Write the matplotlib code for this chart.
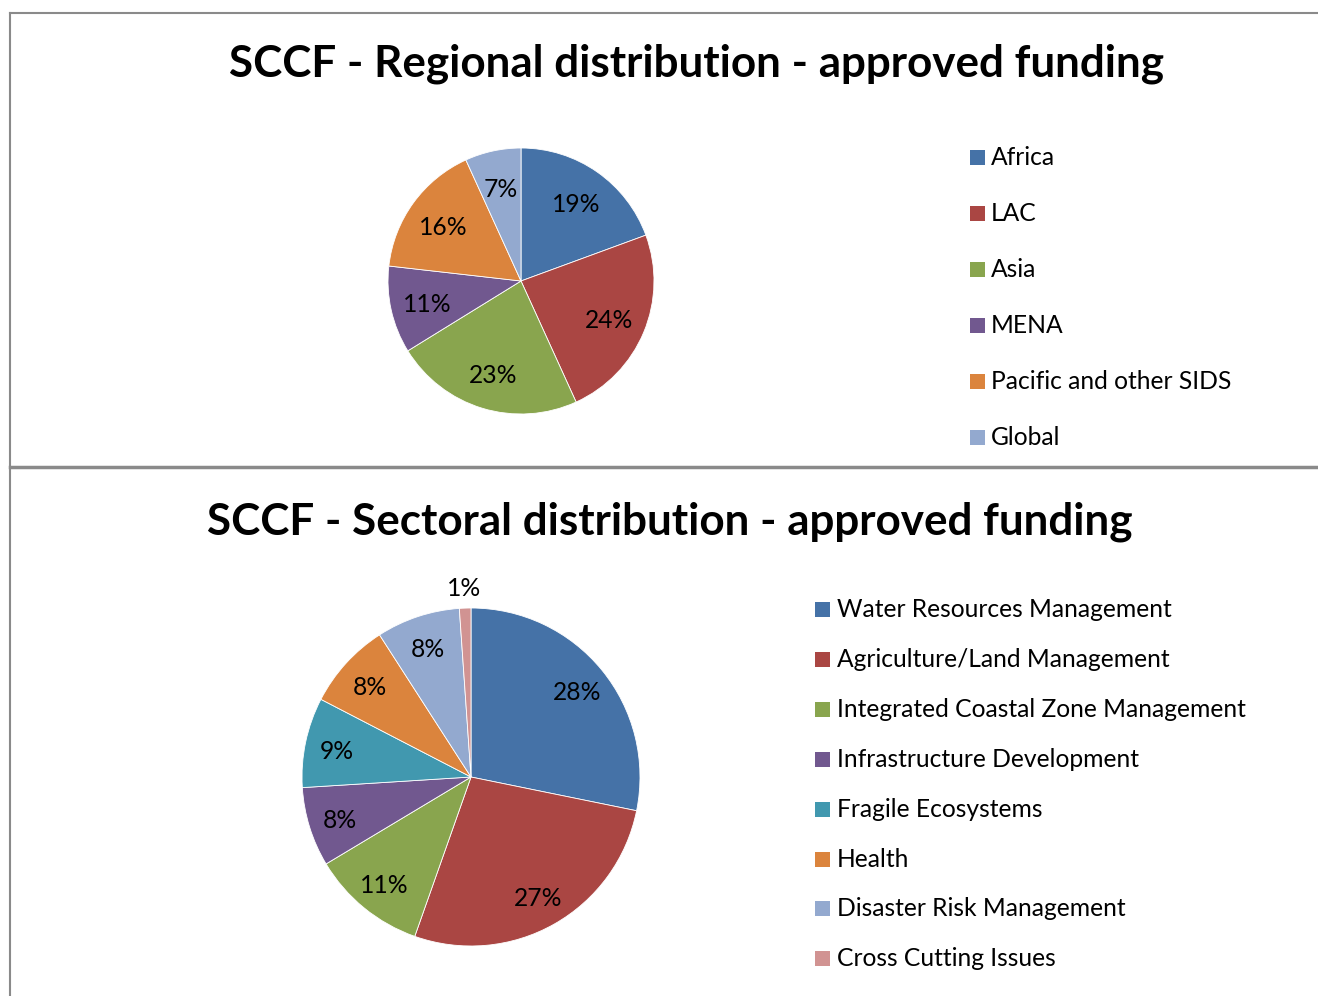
import matplotlib
matplotlib.use("Agg")
import matplotlib.pyplot as plt
from matplotlib.lines import Line2D
from matplotlib.patches import Rectangle
from matplotlib.transforms import offset_copy
import numpy as np

# ---------------- data ----------------
regions = ["Africa", "LAC", "Asia", "MENA", "Pacific and other SIDS", "Global"]
region_share = [19.4, 23.8, 23.0, 10.6, 16.4, 6.8]
region_colors = ["#4572A7", "#AA4643", "#89A54E", "#71588F", "#DB843D", "#93A9CF"]

sectors = ["Water Resources Management", "Agriculture/Land Management",
           "Integrated Coastal Zone Management", "Infrastructure Development",
           "Fragile Ecosystems", "Health", "Disaster Risk Management",
           "Cross Cutting Issues"]
sector_share = [28.2, 27.2, 11.0, 7.6, 8.6, 8.3, 8.0, 1.1]
sector_colors = ["#4572A7", "#AA4643", "#89A54E", "#71588F", "#4198AF",
                 "#DB843D", "#93A9CF", "#D19392"]

title_top = "SCCF - Regional distribution - approved funding"
title_bottom = "SCCF - Sectoral distribution - approved funding"

# ---------------- figure ----------------
W, H = 1318, 996
DPI = 100
plt.rcParams['font.family'] = ['Lato', 'DejaVu Sans']
fig = plt.figure(figsize=(W / DPI, H / DPI), dpi=DPI)
fig.patch.set_facecolor("white")


def fx(px):
    return px / W


def fy(py):
    return 1 - py / H


renderer = fig.canvas.get_renderer()


def fit(t, target):
    w = t.get_window_extent(renderer).width
    t.set_fontsize(t.get_fontsize() * target / w)
    return t.get_fontsize()


# borders
border_c = "#8a8a8a"
fig.add_artist(Line2D([fx(9.5), 1], [fy(13.5), fy(13.5)], color=border_c, lw=1.5, transform=fig.transFigure))
fig.add_artist(Line2D([fx(9.5), fx(9.5)], [fy(13.5), 0], color=border_c, lw=1.5, transform=fig.transFigure))
fig.add_artist(Line2D([fx(9.5), 1], [fy(467), fy(467)], color=border_c, lw=2.5, transform=fig.transFigure))

# titles
t1 = fig.text(fx(696.5), fy(76), title_top, ha="center", va="baseline",
              fontsize=26, fontweight="bold", color="black")
t2 = fig.text(fx(669.5), fy(534), title_bottom, ha="center", va="baseline",
              fontsize=26, fontweight="bold", color="black")
s1 = fit(t1, 937)
s2 = fit(t2, 925)
s = (s1 + s2) / 2
t1.set_fontsize(s)
t2.set_fontsize(s)

# legend font size
tmp = fig.text(0, 0, "Integrated Coastal Zone Management", fontsize=17)
leg_fs = fit(tmp, 408)
tmp.remove()


def draw_pie(rect, shares, colors, dists):
    ax = fig.add_axes(rect)
    wedges, _ = ax.pie(shares, colors=colors, startangle=90, counterclock=False,
                       radius=1.0, wedgeprops=dict(edgecolor="white", linewidth=0.6))
    ax.set_xlim(-1, 1)
    ax.set_ylim(-1, 1)
    ax.set_aspect("equal")
    ax.axis("off")
    tr = offset_copy(ax.transData, fig=fig, x=0, y=-2.5, units="dots")
    for w, v, d in zip(wedges, shares, dists):
        ang = np.deg2rad((w.theta1 + w.theta2) / 2)
        ax.text(d * np.cos(ang), d * np.sin(ang), f"{round(v):d}%", transform=tr,
                ha="center", va="center", fontsize=leg_fs, color="black", clip_on=False)
    return ax


# top pie: center (521,281) r=133
r1 = 133
draw_pie([fx(521 - r1), fy(281 + r1), 2 * r1 / W, 2 * r1 / H],
         region_share, region_colors, [0.72] * len(region_share))

# bottom pie: center (471,777) r=169
r2 = 169
draw_pie([fx(471 - r2), fy(777 + r2), 2 * r2 / W, 2 * r2 / H],
         sector_share, sector_colors, [0.81] * (len(sector_share) - 1) + [1.13])


def draw_legend(names, colors, x_sq, x_txt, base0, step, sq_top_off):
    for i, (n, c) in enumerate(zip(names, colors)):
        base = base0 + step * i
        fig.add_artist(Rectangle((fx(x_sq), fy(base - sq_top_off + 15)), 15 / W, 15 / H,
                                 facecolor=c, edgecolor="none", transform=fig.transFigure))
        fig.text(fx(x_txt), fy(base), n, ha="left", va="baseline",
                 fontsize=leg_fs, color="black")


draw_legend(regions, region_colors, 970, 991, 165, 56, 15)
draw_legend(sectors, sector_colors, 815, 837, 617, 49.9, 15)

fig.savefig("out.png", dpi=DPI, facecolor="white")
